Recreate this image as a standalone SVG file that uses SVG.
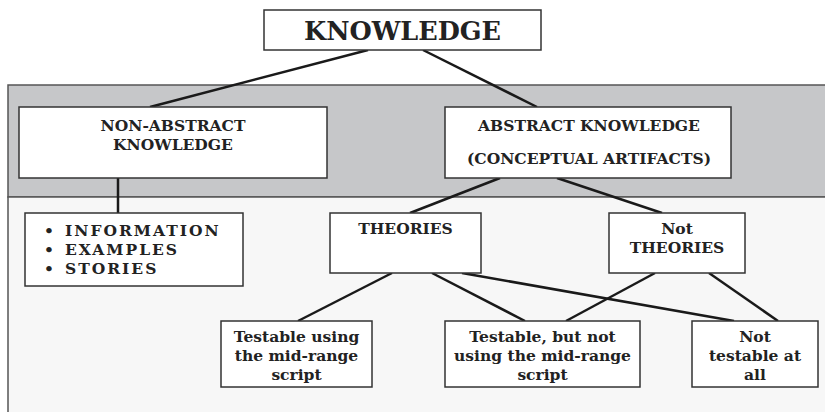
<svg xmlns="http://www.w3.org/2000/svg" width="825" height="412" viewBox="0 0 825 412">
<style>
.box{fill:#fff;stroke:#333;stroke-width:1.5}
.t{font-family:"DejaVu Serif","Liberation Serif",serif;font-weight:bold;fill:#222;text-anchor:middle;font-size:15.5px}
.l{font-family:"DejaVu Serif","Liberation Serif",serif;font-weight:bold;fill:#222;font-size:15.5px}
.c line{stroke:#1a1a1a;stroke-width:2.5}
</style>
<rect width="825" height="412" fill="#fff"/>
<rect x="8" y="85" width="830" height="112" fill="#c6c7c9" stroke="#555" stroke-width="1.5"/>
<rect x="8" y="197" width="830" height="230" fill="#f7f7f7" stroke="#555" stroke-width="1.5"/>
<g class="c" id="connectors">
<line x1="368" y1="50" x2="150" y2="107"/>
<line x1="423" y1="50" x2="537" y2="107"/>
<line x1="118" y1="178" x2="118" y2="213"/>
<line x1="500" y1="178" x2="410" y2="213"/>
<line x1="557" y1="178" x2="662" y2="213"/>
<line x1="392" y1="273" x2="298" y2="321"/>
<line x1="432" y1="273" x2="525" y2="321"/>
<line x1="462" y1="273" x2="734" y2="321"/>
<line x1="655" y1="273" x2="566" y2="321"/>
<line x1="709" y1="273" x2="778" y2="321"/>
</g>
<g id="knowledge">
<rect class="box" x="264" y="10" width="277" height="40"/>
<text class="t" x="402.5" y="39.5" style="font-size:25.5px">KNOWLEDGE</text>
</g>
<g id="nonabstract">
<rect class="box" x="19" y="107" width="308" height="71"/>
<text class="t" x="173" y="131">NON-ABSTRACT</text>
<text class="t" x="173" y="150">KNOWLEDGE</text>
</g>
<g id="abstract">
<rect class="box" x="445" y="107" width="286" height="71"/>
<text class="t" x="589" y="131">ABSTRACT KNOWLEDGE</text>
<text class="t" x="589" y="164">(CONCEPTUAL ARTIFACTS)</text>
</g>
<g id="info">
<rect class="box" x="25" y="213" width="218" height="73"/>
<text class="l" x="44" y="236">•</text>
<text class="l" x="44" y="255">•</text>
<text class="l" x="44" y="274">•</text>
<text class="l" x="65" y="236" letter-spacing="2">INFORMATION</text>
<text class="l" x="65" y="255" letter-spacing="2">EXAMPLES</text>
<text class="l" x="65" y="274" letter-spacing="2">STORIES</text>
</g>
<g id="theories">
<rect class="box" x="330" y="213" width="151" height="60"/>
<text class="t" x="405.5" y="234">THEORIES</text>
</g>
<g id="nottheories">
<rect class="box" x="609" y="213" width="136" height="60"/>
<text class="t" x="677" y="234">Not</text>
<text class="t" x="677" y="253">THEORIES</text>
</g>
<g id="testable">
<rect class="box" x="221" y="321" width="151" height="66"/>
<text class="t" x="296.5" y="342">Testable using</text>
<text class="t" x="296.5" y="361">the mid-range</text>
<text class="t" x="296.5" y="380">script</text>
</g>
<g id="testablenot">
<rect class="box" x="445" y="321" width="195" height="66"/>
<text class="t" x="542.5" y="342">Testable, but not</text>
<text class="t" x="542.5" y="361">using the mid-range</text>
<text class="t" x="542.5" y="380">script</text>
</g>
<g id="nottestable">
<rect class="box" x="692" y="321" width="126" height="66"/>
<text class="t" x="755" y="342">Not</text>
<text class="t" x="755" y="361">testable at</text>
<text class="t" x="755" y="380">all</text>
</g>
</svg>
